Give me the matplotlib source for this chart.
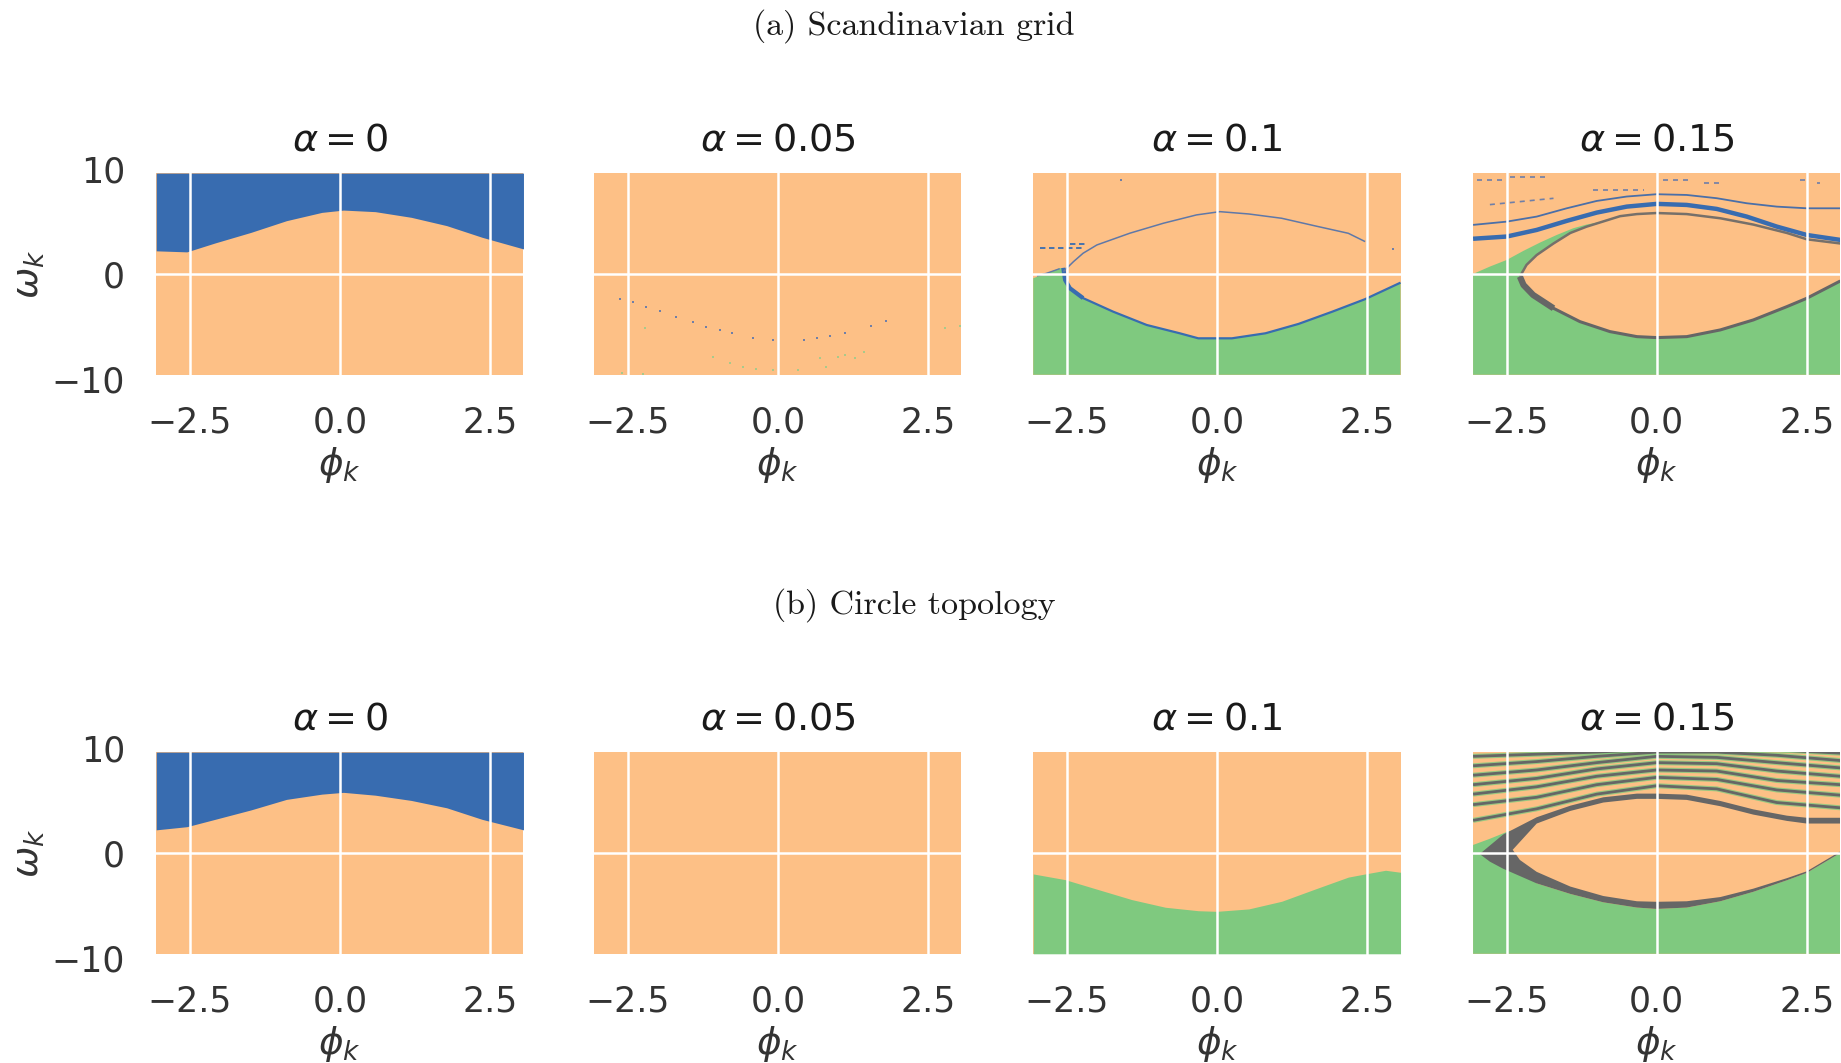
import numpy as np
import matplotlib.pyplot as plt
from matplotlib.patches import Rectangle, Polygon

GREEN = '#7fc97f'
ORANGE = '#fdc086'
BLUE = '#386cb0'
GREY = '#666666'

# extent of the sampled (phi, omega) grid
PHI_EDGE = 3.06
OMEGA_EDGE = 9.6

ALPHA_LABELS = ['0', '0.05', '0.1', '0.15']
ROW_TITLES = ['(a) Scandinavian grid', '(b) Circle topology']
X_TICKS = [-2.5, 0.0, 2.5]
Y_TICKS = [-10, 0, 10]

# ---- (a) alpha = 0 : blue basin above the curve
a0_phi = [-3.06, -2.55, -2.08, -1.48, -0.89, -0.30, 0.06, 0.59, 1.19, 1.78, 2.37, 3.06]
a0_omega = [2.2, 2.1, 2.95, 3.96, 5.07, 5.86, 6.08, 5.93, 5.39, 4.6, 3.49, 2.38]

# ---- (a) alpha = 0.05 : isolated points inside the orange basin
a05_blue_phi = [-2.63, -2.41, -2.19, -1.96, -1.69, -1.41, -1.19, -0.96, -0.77, -0.41, -0.08,
                0.43, 0.65, 0.87, 1.12, 1.56, 1.81]
a05_blue_omega = [-2.38, -2.7, -3.17, -3.49, -4.06, -4.54, -5.02, -5.33, -5.65, -6.06, -6.29,
                  -6.29, -6.1, -5.87, -5.59, -4.92, -4.44]
a05_green_phi = [-2.21, -1.08, -0.8, -0.58, -0.36, -0.08, 0.34, 0.7, 0.81, 1.01, 1.12, 1.29,
                 1.44, 2.79, 3.04, -2.6, -2.24]
a05_green_omega = [-5.17, -7.87, -8.44, -8.83, -9.08, -9.14, -9.14, -8.03, -8.83, -7.87, -7.71,
                   -7.97, -7.46, -5.17, -4.95, -9.4, -9.5]

# ---- (a) alpha = 0.1
a10_green_phi = [-3.06, -2.84, -2.62, -2.56, -2.53, -2.45, -2.23, -1.73, -1.17, -0.62, -0.31,
                 0.25, 0.81, 1.36, 1.92, 2.47, 3.06]
a10_green_omega = [-0.41, 0.06, 0.54, 0.58, -0.57, -1.36, -2.3, -3.59, -4.86, -5.65, -6.13,
                   -6.13, -5.65, -4.76, -3.6, -2.4, -0.83]
a10_upper_phi = [-2.56, -2.39, -2.23, -2.0, -1.45, -0.89, -0.34, 0.05, 0.53, 1.08, 1.64, 2.19, 2.47]
a10_upper_omega = [0.22, 1.17, 1.97, 2.76, 3.88, 4.83, 5.62, 5.93, 5.71, 5.3, 4.57, 3.87, 3.08]
a10_edge_phi = [-3.0, -2.84, -2.62]
a10_edge_omega = [-0.2, 0.06, 0.5]
a10_dash_phi0 = [-2.95, -2.44]
a10_dash_phi1 = [-2.23, -2.14]
a10_dash_omega = [2.44, 2.86]
a10_dot_phi = [-1.59, 2.94]
a10_dot_omega = [8.95, 2.35]

# ---- (a) alpha = 0.15
a15_wedge_phi = [-3.06, -2.78, -2.5, -2.22, -1.94, -1.67, -1.39, -1.17]
a15_wedge_omega = [0.0, 0.7, 1.33, 2.2, 3.0, 3.7, 4.35, 4.7]
a15_upper_phi = [-2.28, -2.17, -2.0, -1.72, -1.44, -1.17, -0.89, -0.61, -0.33, 0.0, 0.5,
                 1.06, 1.61, 2.17, 2.5, 3.06]
a15_upper_omega = [-0.25, 0.86, 1.8, 2.9, 3.9, 4.5, 5.0, 5.5, 5.7, 5.8, 5.7, 5.3, 4.7, 3.9,
                   3.3, 2.9]
a15_lower_phi = [-2.28, -2.22, -2.06, -1.72, -1.28, -0.78, -0.33, 0.0, 0.5, 1.06, 1.61, 2.17,
                 2.5, 3.06]
a15_lower_omega = [-0.25, -1.05, -2.0, -3.27, -4.54, -5.49, -5.97, -6.06, -5.97, -5.33, -4.38,
                   -3.11, -2.32, -0.67]
a15_band_phi = [-3.06, -2.5, -2.0, -1.5, -1.0, -0.5, 0.0, 0.5, 1.0, 1.5, 2.0, 2.5, 3.06]
a15_band_omega = [3.35, 3.56, 4.19, 5.05, 5.84, 6.41, 6.67, 6.57, 6.19, 5.46, 4.51, 3.71, 3.24]
a15_thin_omega = [4.67, 4.98, 5.46, 6.25, 6.95, 7.37, 7.59, 7.52, 7.21, 6.73, 6.41, 6.25, 6.25]
a15_dash_phi0 = [-3.0, -2.44, 0.11, 0.78, 2.39, 2.67, -1.06, -2.78]
a15_dash_phi1 = [-2.56, -1.83, 0.56, 1.11, 2.5, 2.72, -0.22, -1.72]
a15_dash_omega0 = [8.95, 9.27, 8.95, 8.63, 8.95, 8.63, 8.0, 6.6]
a15_dash_omega1 = [8.95, 9.27, 8.95, 8.63, 8.95, 8.63, 8.0, 7.2]

# ---- (b) alpha = 0
b0_phi = [-3.06, -2.55, -2.08, -1.48, -0.89, -0.30, 0.06, 0.59, 1.19, 1.78, 2.37, 3.06]
b0_omega = [2.2, 2.5, 3.2, 4.1, 5.1, 5.6, 5.77, 5.5, 5.0, 4.3, 3.2, 2.2]

# ---- (b) alpha = 0.1 : green basin below the curve
b10_phi = [-3.06, -2.53, -1.97, -1.42, -0.86, -0.31, 0.0, 0.53, 1.08, 1.64, 2.19, 2.47, 2.81, 3.06]
b10_omega = [-2.0, -2.54, -3.5, -4.44, -5.17, -5.5, -5.56, -5.33, -4.6, -3.43, -2.3, -2.0,
             -1.65, -1.84]

# ---- (b) alpha = 0.15
b15_outer_low_phi = [-2.95, -2.78, -2.56, -2.0, -1.44, -0.89, -0.33, 0.0, 0.5, 1.06, 1.61, 2.17,
                     2.5, 3.06]
b15_outer_low_omega = [-0.1, -0.83, -1.5, -2.9, -3.9, -4.7, -5.2, -5.33, -5.2, -4.6, -3.7, -2.6,
                       -1.9, 0.0]
b15_outer_up_phi = [-2.95, -2.56, -2.0, -1.44, -0.89, -0.33, 0.0, 0.5, 1.06, 1.61, 2.17, 2.5, 3.06]
b15_outer_up_omega = [-0.1, 1.75, 3.4, 4.5, 5.3, 5.65, 5.65, 5.55, 4.95, 4.15, 3.55, 3.35, 3.35]
b15_inner_low_phi = [-2.4, -2.28, -2.0, -1.44, -0.89, -0.33, 0.0, 0.5, 1.06, 1.61, 2.17, 2.5, 3.06]
b15_inner_low_omega = [0.3, -0.67, -1.8, -3.2, -4.1, -4.6, -4.65, -4.6, -4.2, -3.4, -2.4, -1.75, 0.15]
b15_inner_up_phi = [-2.4, -2.0, -1.44, -0.89, -0.33, 0.0, 0.5, 1.06, 1.61, 2.17, 2.5, 3.06]
b15_inner_up_omega = [0.3, 2.8, 4.0, 4.8, 5.15, 5.15, 5.05, 4.45, 3.65, 3.05, 2.8, 2.8]
b15_wedge_phi = [-3.06, -2.78, -2.5, -2.3]
b15_wedge_omega = [0.76, 1.35, 2.0, 2.3]
b15_stripe_phi = [-3.06, -2.0, -1.0, 0.0, 1.0, 2.0, 3.06]
b15_stripe_omega = [
    [3.1, 4.2, 5.6, 6.4, 6.1, 4.8, 4.3],
    [4.6, 5.3, 6.5, 7.2, 7.0, 6.0, 5.5],
    [5.6, 6.3, 7.3, 7.9, 7.8, 6.9, 6.5],
    [6.5, 7.1, 8.0, 8.6, 8.5, 7.8, 7.3],
    [7.4, 7.9, 8.6, 9.2, 9.1, 8.6, 8.1],
    [8.3, 8.7, 9.2, 9.6, 9.6, 9.3, 8.8],
    [9.2, 9.4, 9.6, 9.9, 9.9, 9.8, 9.5],
]


def basin_frame(ax):
    # orange background covering the sampled grid; also used as the clip region
    frame = Rectangle((-PHI_EDGE, -OMEGA_EDGE), 2 * PHI_EDGE, 2 * OMEGA_EDGE,
                      facecolor=ORANGE, edgecolor='none', zorder=0.1)
    ax.add_patch(frame)
    return frame


def clipped(artists, frame):
    if not isinstance(artists, (list, tuple)):
        artists = [artists]
    for a in artists:
        a.set_clip_path(frame)
    return artists


def polygon(ax, frame, pts, color, z=0.2):
    p = Polygon(pts, closed=True, facecolor=color, edgecolor='none', zorder=z)
    ax.add_patch(p)
    clipped(p, frame)


def curve(ax, frame, x, y, color, lw, z=0.3, **kw):
    clipped(ax.plot(x, y, color=color, lw=lw, zorder=z, solid_capstyle='butt', **kw), frame)


def draw_a0(ax, frame):
    clipped(ax.fill_between(a0_phi, a0_omega, OMEGA_EDGE, color=BLUE, lw=0, zorder=0.2), frame)


def draw_a05(ax, frame):
    clipped(ax.scatter(a05_blue_phi, a05_blue_omega, s=4, marker='s', color='#6f7fa8',
                       lw=0, zorder=0.3), frame)
    clipped(ax.scatter(a05_green_phi, a05_green_omega, s=4, marker='s', color='#a8c98a',
                       lw=0, zorder=0.3), frame)


def draw_a10(ax, frame):
    pts = [(-PHI_EDGE, -OMEGA_EDGE)] + list(zip(a10_green_phi, a10_green_omega)) + \
          [(PHI_EDGE, -OMEGA_EDGE)]
    polygon(ax, frame, pts, GREEN)
    # basin boundaries
    curve(ax, frame, a10_green_phi[4:], a10_green_omega[4:], BLUE, 1.6)
    curve(ax, frame, a10_green_phi[3:7], a10_green_omega[3:7], BLUE, 3.0)
    curve(ax, frame, a10_upper_phi, a10_upper_omega, '#5f78a8', 1.1)
    curve(ax, frame, a10_edge_phi, a10_edge_omega, '#5f78a8', 1.0)
    for p0, p1, w in zip(a10_dash_phi0, a10_dash_phi1, a10_dash_omega):
        curve(ax, frame, [p0, p1], [w, w], BLUE, 1.3, ls=(0, (3, 2)))
    clipped(ax.scatter(a10_dot_phi, a10_dot_omega, s=3, marker='s', color='#6f7fa8',
                       lw=0, zorder=0.3), frame)


def draw_a15(ax, frame):
    top = [(p, w) for p, w in zip(a15_upper_phi, a15_upper_omega) if p > a15_wedge_phi[-1]]
    pts = [(-PHI_EDGE, -OMEGA_EDGE)] + list(zip(a15_wedge_phi, a15_wedge_omega)) + top + \
          [(PHI_EDGE, -OMEGA_EDGE)]
    polygon(ax, frame, pts, GREEN)
    eye = list(zip(a15_lower_phi, a15_lower_omega)) + \
        list(zip(a15_upper_phi, a15_upper_omega))[::-1]
    polygon(ax, frame, eye, ORANGE, z=0.25)
    curve(ax, frame, a15_lower_phi, a15_lower_omega, GREY, 2.2)
    curve(ax, frame, a15_lower_phi[:4], a15_lower_omega[:4], GREY, 4.5)
    curve(ax, frame, a15_upper_phi, a15_upper_omega, '#76706a', 1.8)
    curve(ax, frame, a15_band_phi, a15_band_omega, BLUE, 3.2)
    curve(ax, frame, a15_band_phi, a15_thin_omega, '#4a6fa8', 1.3)
    for p0, p1, w0, w1 in zip(a15_dash_phi0, a15_dash_phi1, a15_dash_omega0, a15_dash_omega1):
        curve(ax, frame, [p0, p1], [w0, w1], '#6f7fa8', 1.2, ls=(0, (3, 3)))


def draw_b0(ax, frame):
    clipped(ax.fill_between(b0_phi, b0_omega, OMEGA_EDGE, color=BLUE, lw=0, zorder=0.2), frame)


def draw_b05(ax, frame):
    pass


def draw_b10(ax, frame):
    clipped(ax.fill_between(b10_phi, -OMEGA_EDGE, b10_omega, color=GREEN, lw=0, zorder=0.2), frame)


def draw_b15(ax, frame):
    pts = [(-PHI_EDGE, -OMEGA_EDGE)] + list(zip(b15_wedge_phi, b15_wedge_omega)) + \
          [(p, w) for p, w in zip(b15_outer_low_phi, b15_outer_low_omega) if p >= -2.0] + \
          [(PHI_EDGE, -OMEGA_EDGE)]
    polygon(ax, frame, pts, GREEN)
    outer = list(zip(b15_outer_low_phi, b15_outer_low_omega)) + \
        list(zip(b15_outer_up_phi, b15_outer_up_omega))[::-1]
    polygon(ax, frame, outer, GREY, z=0.25)
    inner = list(zip(b15_inner_low_phi, b15_inner_low_omega)) + \
        list(zip(b15_inner_up_phi, b15_inner_up_omega))[::-1]
    polygon(ax, frame, inner, ORANGE, z=0.27)
    for row in b15_stripe_omega:
        curve(ax, frame, b15_stripe_phi, row, GREEN, 3.6, z=0.3, alpha=0.8)
        curve(ax, frame, b15_stripe_phi, row, GREY, 2.0, z=0.31)


PANELS = [
    [draw_a0, draw_a05, draw_a10, draw_a15],
    [draw_b0, draw_b05, draw_b10, draw_b15],
]

fig = plt.figure(figsize=(18.41, 10.63), dpi=100)
col_left = [0.0822, 0.3201, 0.5586, 0.7975]
row_bottom = [0.6435, 0.0988]
ax_w, ax_h = 0.2048, 0.1976
caption_y = [0.9755, 0.4309]

for r in range(2):
    fig.text(0.4965, caption_y[r], ROW_TITLES[r], ha='center', va='center',
             fontfamily='cmr10', fontsize=24.5, color='#1a1a1a')
    for c in range(4):
        ax = fig.add_axes([col_left[c], row_bottom[r], ax_w, ax_h])
        ax.set_facecolor('white')
        ax.set_xlim(-np.pi, np.pi)
        ax.set_ylim(-10, 10)
        frame = basin_frame(ax)
        PANELS[r][c](ax, frame)
        ax.set_xticks(X_TICKS)
        ax.set_yticks(Y_TICKS)
        ax.set_axisbelow(True)
        ax.grid(True, color='white', lw=1.8)
        for s in ax.spines.values():
            s.set_visible(False)
        ax.tick_params(length=0, pad=19, labelsize=25, labelcolor='0.2')
        ax.set_title(r'$\alpha = %s$' % ALPHA_LABELS[c], fontsize=27.5, pad=13, color='0.1')
        ax.set_xlabel(r'$\phi_k$', fontsize=27, labelpad=4, color='0.2')
        if c == 0:
            ax.set_ylabel(r'$\omega_k$', fontsize=27, labelpad=3, color='0.2')
        else:
            ax.tick_params(labelleft=False)

fig.savefig('out.png', dpi=100)
